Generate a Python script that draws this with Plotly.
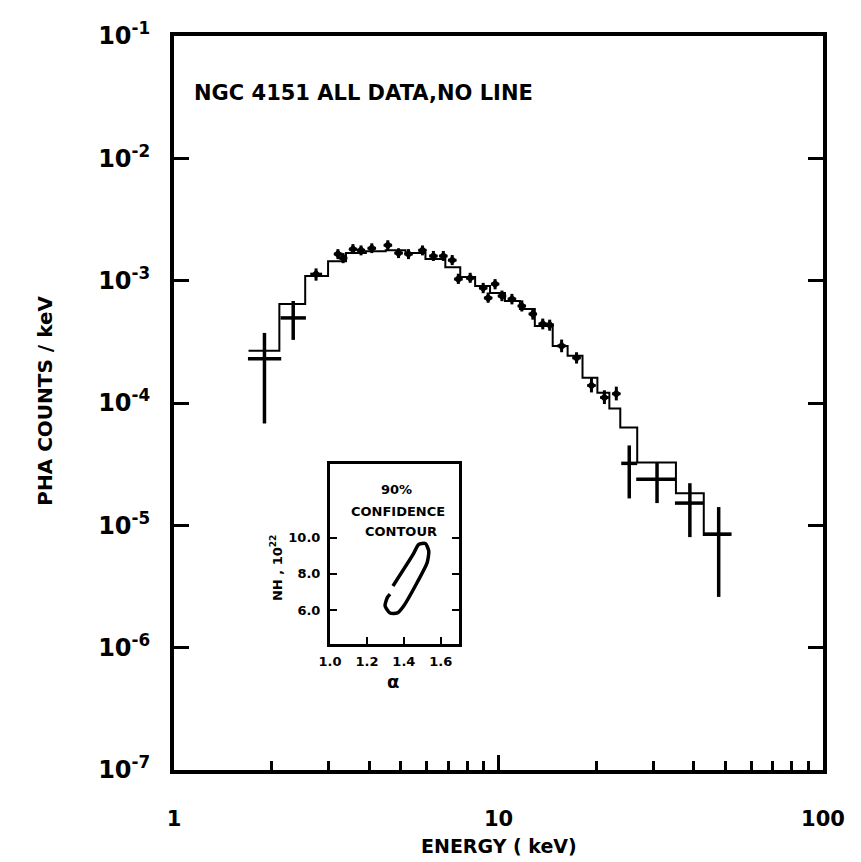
import plotly.graph_objects as go

# ---- Main spectrum data ----
energy = [1.90, 2.33, 2.74, 3.20, 3.32, 3.56, 3.77, 4.07, 4.56, 4.92, 5.28, 5.83, 6.30, 6.76,
          7.20, 7.52, 8.18, 8.97, 9.29, 9.76, 10.25, 11.00, 11.80, 12.76, 13.69, 14.38, 15.65,
          17.40, 19.34, 21.20, 23.07, 25.29, 30.80, 38.88, 47.70]
energy_lo = [1.69, 2.13, 2.63, 3.11, 3.22, 3.46, 3.66, 3.95, 4.43, 4.78, 5.13, 5.66, 6.12, 6.56,
             6.99, 7.30, 7.94, 8.71, 9.02, 9.48, 9.95, 10.68, 11.46, 12.39, 13.29, 13.96, 15.19,
             16.89, 18.78, 20.58, 22.40, 23.89, 26.57, 34.97, 42.91]
energy_hi = [2.14, 2.55, 2.86, 3.30, 3.42, 3.67, 3.88, 4.19, 4.70, 5.07, 5.44, 6.00, 6.49, 6.96,
             7.42, 7.75, 8.43, 9.24, 9.57, 10.05, 10.56, 11.33, 12.15, 13.14, 14.10, 14.81, 16.12,
             17.92, 19.92, 21.84, 23.76, 26.76, 35.22, 42.91, 52.27]
counts = [2.30e-4, 4.96e-4, 1.13e-3, 1.65e-3, 1.53e-3, 1.81e-3, 1.77e-3, 1.84e-3, 1.95e-3,
          1.68e-3, 1.65e-3, 1.77e-3, 1.59e-3, 1.59e-3, 1.47e-3, 1.03e-3, 1.05e-3, 8.70e-4,
          7.22e-4, 9.38e-4, 7.49e-4, 7.08e-4, 6.21e-4, 5.34e-4, 4.43e-4, 4.35e-4, 2.93e-4,
          2.34e-4, 1.39e-4, 1.11e-4, 1.19e-4, 3.21e-5, 2.38e-5, 1.52e-5, 8.48e-6]
counts_hi = [3.74e-4, 6.82e-4, 1.26e-3, 1.81e-3, 1.68e-3, 1.99e-3, 1.94e-3, 2.02e-3, 2.14e-3,
             1.84e-3, 1.81e-3, 1.94e-3, 1.75e-3, 1.75e-3, 1.62e-3, 1.14e-3, 1.16e-3, 9.6e-4,
             8.0e-4, 1.03e-3, 8.3e-4, 7.8e-4, 6.9e-4, 5.9e-4, 4.9e-4, 4.8e-4, 3.3e-4,
             2.6e-4, 1.6e-4, 1.27e-4, 1.36e-4, 4.50e-5, 3.27e-5, 2.21e-5, 1.41e-5]
counts_lo = [6.80e-5, 3.28e-4, 1.00e-3, 1.50e-3, 1.39e-3, 1.65e-3, 1.61e-3, 1.68e-3, 1.78e-3,
             1.53e-3, 1.50e-3, 1.61e-3, 1.45e-3, 1.45e-3, 1.34e-3, 9.4e-4, 9.6e-4, 7.9e-4,
             6.6e-4, 8.5e-4, 6.8e-4, 6.4e-4, 5.6e-4, 4.8e-4, 4.0e-4, 3.9e-4, 2.6e-4,
             2.1e-4, 1.22e-4, 9.8e-5, 1.05e-4, 1.66e-5, 1.52e-5, 8.01e-6, 2.60e-6]

# ---- Model histogram (bin edges and values) ----
model_edges = [1.697, 2.112, 2.537, 2.984, 3.388, 3.901, 4.491, 5.171, 5.955, 6.857, 7.623,
               8.472, 9.418, 10.47, 11.64, 12.94, 14.69, 16.33, 18.15, 20.17, 21.96, 23.73,
               26.76, 35.22, 42.91, 51.90]
model_counts = [2.67e-4, 6.45e-4, 1.09e-3, 1.44e-3, 1.68e-3, 1.74e-3, 1.77e-3, 1.68e-3, 1.50e-3,
                1.29e-3, 1.07e-3, 9.04e-4, 7.93e-4, 6.82e-4, 5.87e-4, 4.27e-4, 2.93e-4, 2.43e-4,
                1.61e-4, 1.215e-4, 9.00e-5, 6.31e-5, 3.27e-5, 1.83e-5, 8.32e-6]

# ---- Inset: 90% confidence contour ----
contour_alpha = [1.341, 1.450, 1.480, 1.517, 1.535, 1.526, 1.472, 1.400, 1.365, 1.325, 1.298, 1.311, 1.325]
contour_nh = [7.33, 9.07, 9.62, 9.67, 9.25, 8.61, 7.52, 6.24, 5.84, 5.84, 6.24, 6.70, 6.88]

y_tick_vals = [1e-7, 1e-6, 1e-5, 1e-4, 1e-3, 1e-2, 1e-1]
y_tick_text = ["10<sup>-7</sup>", "10<sup>-6</sup>", "10<sup>-5</sup>", "10<sup>-4</sup>",
               "10<sup>-3</sup>", "10<sup>-2</sup>", "10<sup>-1</sup>"]
x_tick_vals = [1, 10, 100]
x_tick_text = ["1", "10", "100"]
x_minor_vals = [2, 3, 4, 5, 6, 7, 8, 9, 20, 30, 40, 50, 60, 70, 80, 90]
inset_x_vals = [1.0, 1.2, 1.4, 1.6]
inset_x_text = ["1.0", "1.2", "1.4", "1.6"]
inset_y_vals = [6, 8, 10]
inset_y_text = ["6.0", "8.0", "10.0"]

FONT = "DejaVu Sans"
BIG = [0, 1, 31, 32, 33, 34]
SMALL = [i for i in range(len(energy)) if i not in BIG]


def sub(lst, idx):
    return [lst[i] for i in idx]


fig = go.Figure()

# model step line
fig.add_trace(go.Scatter(
    x=model_edges, y=model_counts + [model_counts[-1]], mode="lines",
    line=dict(shape="hv", color="black", width=2), hoverinfo="skip", showlegend=False))


def add_points(idx, msize, thick):
    e = sub(energy, idx)
    c = sub(counts, idx)
    fig.add_trace(go.Scatter(
        x=e, y=c, mode="markers",
        marker=dict(symbol="diamond", size=msize, color="black"),
        error_x=dict(type="data", symmetric=False,
                     array=[h - v for h, v in zip(sub(energy_hi, idx), e)],
                     arrayminus=[v - l for l, v in zip(sub(energy_lo, idx), e)],
                     thickness=thick, width=0, color="black"),
        error_y=dict(type="data", symmetric=False,
                     array=[h - v for h, v in zip(sub(counts_hi, idx), c)],
                     arrayminus=[v - l for l, v in zip(sub(counts_lo, idx), c)],
                     thickness=thick, width=0, color="black"),
        showlegend=False))


add_points(BIG, 0.1, 3.5)
add_points(SMALL, 7, 3)

# inset contour
fig.add_trace(go.Scatter(
    x=contour_alpha, y=contour_nh, mode="lines", xaxis="x2", yaxis="y2",
    line=dict(color="black", width=3.5, shape="spline", smoothing=0.6), showlegend=False))

axis_common = dict(showgrid=False, zeroline=False, showline=True, linecolor="black",
                   ticks="inside", tickcolor="black")

fig.update_layout(
    width=853, height=854,
    margin=dict(l=166, r=38, t=28, b=92, autoexpand=False),
    paper_bgcolor="white", plot_bgcolor="white",
    xaxis=dict(type="log", range=[0, 2], linewidth=4, mirror=True, ticklen=15, tickwidth=3,
               tickvals=x_tick_vals, ticktext=x_tick_text,
               tickfont=dict(family=FONT, size=21, color="black", weight="bold"),
               ticklabelstandoff=27,
               minor=dict(ticks="inside", ticklen=9, tickwidth=2.5, tickcolor="black",
                          tickvals=x_minor_vals, showgrid=False),
               **axis_common),
    yaxis=dict(type="log", range=[-7, -1], linewidth=4, mirror="ticks", ticklen=15, tickwidth=3,
               tickvals=y_tick_vals, ticktext=y_tick_text,
               tickfont=dict(family=FONT, size=24, color="black", weight="bold"),
               ticklabelstandoff=15,
               **axis_common),
    xaxis2=dict(domain=[0.2404, 0.4395], anchor="y2", range=[1.0, 1.7], linewidth=3,
                mirror=True, ticklen=7, tickwidth=2,
                tickvals=inset_x_vals, ticktext=inset_x_text,
                tickfont=dict(family=FONT, size=13, color="black", weight="bold"),
                ticklabelstandoff=3,
                **axis_common),
    yaxis2=dict(domain=[0.171, 0.4166], anchor="x2", range=[4.1, 14.05], linewidth=3,
                mirror="ticks", ticklen=7, tickwidth=2,
                tickvals=inset_y_vals, ticktext=inset_y_text,
                tickfont=dict(family=FONT, size=13, color="black", weight="bold"),
                ticklabelstandoff=4,
                **axis_common),
)

ann_font = dict(family=FONT, color="black", weight="bold")


def ann(text, x, y, size, angle=0, xanchor="center"):
    return dict(text=text, x=x, y=y, xref="paper", yref="paper", textangle=angle,
                xanchor=xanchor, yanchor="middle", showarrow=False,
                font=dict(size=size, **ann_font))


annotations = [
    ann("NGC 4151 ALL DATA,NO LINE", 0.0276, 0.9227, 21, xanchor="left"),
    ann("ENERGY ( keV)", 0.50, -0.104, 19),
    ann("PHA COUNTS / keV", -0.199, 0.503, 20, angle=-90),
    ann("90%", 0.3423, 0.3826, 13),
    ann("CONFIDENCE", 0.3453, 0.3528, 13),
    ann("CONTOUR", 0.3492, 0.3256, 13),
    ann("NH , 10<sup>22</sup>", 0.1582, 0.276, 13, angle=-90),
    ann("α", 0.3377, 0.121, 18),
]
fig.update_layout(annotations=annotations)

fig.write_html("out.html")
